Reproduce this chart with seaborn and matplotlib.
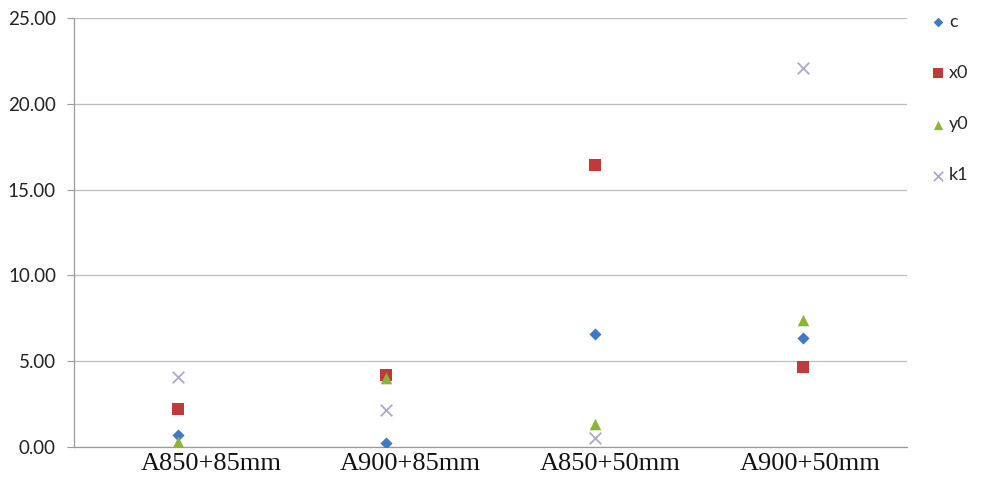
import numpy as np
import pandas as pd
import matplotlib
matplotlib.use("Agg")
import matplotlib.pyplot as plt
import seaborn as sns

categories = ["A850+85mm", "A900+85mm", "A850+50mm", "A900+50mm"]
c_vals = [0.70, 0.22, 6.57, 6.35]
x0_vals = [2.20, 4.22, 16.43, 4.64]
y0_vals = [0.30, 4.02, 1.35, 7.43]
k1_vals = [4.06, 2.18, 0.50, 22.08]
series_names = ["c", "x0", "y0", "k1"]
y_ticks = [0, 5, 10, 15, 20, 25]
label_shift_px = [33, 24, 16, 7]  # category labels sit slightly right of the markers

sns.set_theme(style="white")

rows = []
for name, vals in zip(series_names, [c_vals, x0_vals, y0_vals, k1_vals]):
    for cat, v in zip(categories, vals):
        rows.append({"category": cat, "value": v, "series": name})
df = pd.DataFrame(rows)
df["xpos"] = df["category"].map({c: i for i, c in enumerate(categories)})

palette = {"c": "#3F78C4", "x0": "#C0393B", "y0": "#8DB33A", "k1": "#A9A9CF"}
markers = {"c": "D", "x0": "s", "y0": "^", "k1": "x"}
sizes = {"c": 38, "x0": 70, "y0": 70, "k1": 70}

fig = plt.figure(figsize=(10, 4.84), dpi=100)
ax = fig.add_axes([0.074, 0.0764, 0.833, 0.8864])

for name in series_names:
    sub = df[df["series"] == name]
    if name == "k1":
        sns.scatterplot(data=sub, x="xpos", y="value", ax=ax, color=palette[name],
                        marker="x", s=sizes[name], linewidth=1.3, label=name, zorder=3)
    else:
        sns.scatterplot(data=sub, x="xpos", y="value", ax=ax, color=palette[name],
                        marker=markers[name], s=sizes[name], linewidth=0, label=name, zorder=3)

ax.set_xlim(-0.5, 3.5)
ax.set_ylim(0, 25)
ax.set_yticks(y_ticks)
ax.set_yticklabels([f"{t:.2f}" for t in y_ticks], fontsize=13.5, family="Lato", color="#222222")
ax.set_xticks(range(len(categories)))
ax.set_xticklabels([])
for i, (cat, dx) in enumerate(zip(categories, label_shift_px)):
    ax.annotate(cat, xy=(i, 0), xycoords=("data", "axes fraction"),
                xytext=(dx * 0.72, -6 * 0.72), textcoords="offset points",
                ha="center", va="top", fontsize=19, family="Liberation Serif",
                color="#111111", annotation_clip=False)
ax.tick_params(axis="x", length=0, pad=6)
ax.tick_params(axis="y", length=5, width=0.8, color="#9A9A9A", direction="out", left=True, pad=8)
ax.set_xlabel("")
ax.set_ylabel("")
ax.grid(axis="y", color="#BDBDBD", linewidth=0.9)
ax.set_axisbelow(True)
for side in ["top", "right"]:
    ax.spines[side].set_visible(False)
for side in ["left", "bottom"]:
    ax.spines[side].set_color("#9A9A9A")
    ax.spines[side].set_linewidth(0.9)

leg = ax.legend(loc="upper left", bbox_to_anchor=(0.92, 0.99), bbox_transform=fig.transFigure,
                frameon=False, labelspacing=1.95, handletextpad=0.1, handlelength=1.0,
                prop={"family": "Lato", "size": 13}, markerscale=0.8, borderpad=0)

fig.savefig("out.png", dpi=100)
